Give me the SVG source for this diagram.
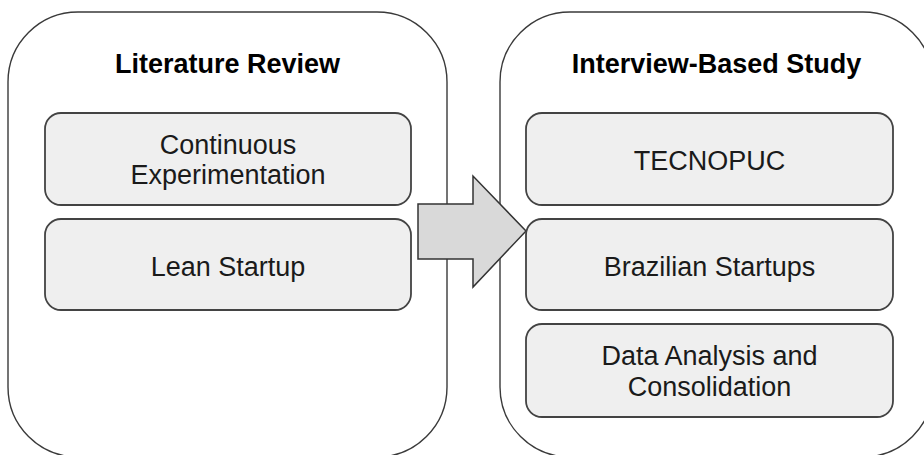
<svg xmlns="http://www.w3.org/2000/svg" width="924" height="455" viewBox="0 0 924 455">
  <style>
    .panel { fill: #ffffff; stroke: #3a3a3a; stroke-width: 1.4; }
    .step { fill: #efefef; stroke: #434343; stroke-width: 1.8; }
    .title { font-family: "Liberation Sans", Arial, sans-serif; font-size: 27px; font-weight: bold; fill: #000000; text-anchor: middle; }
    .label { font-family: "Liberation Sans", Arial, sans-serif; font-size: 27px; fill: #1a1a1a; text-anchor: middle; }
    .flow { fill: #d9d9d9; stroke: #333333; stroke-width: 1.5; stroke-linejoin: miter; }
  </style>
  <rect width="924" height="455" fill="#ffffff"/>

  <!-- Literature review phase -->
  <g id="literature-review">
    <rect class="panel" x="8" y="12" width="439" height="445" rx="70" ry="70"/>
    <text class="title" x="227.5" y="73">Literature Review</text>
  </g>

  <!-- Interview-based study phase -->
  <g id="interview-study">
    <rect class="panel" x="500" y="12" width="433" height="445" rx="70" ry="70"/>
    <text class="title" x="716.5" y="73">Interview-Based Study</text>
  </g>

  <!-- Transition between phases -->
  <g id="connectors">
    <polygon class="flow" points="418,204 473,204 473,176 526,231 473,287 473,259 418,259"/>
  </g>

  <g id="continuous-experimentation">
    <rect class="step" x="45" y="113" width="366" height="92" rx="16" ry="16"/>
    <text class="label" x="228" y="153.5">Continuous</text>
    <text class="label" x="228" y="183.5">Experimentation</text>
  </g>

  <g id="lean-startup">
    <rect class="step" x="45" y="219" width="366" height="91" rx="16" ry="16"/>
    <text class="label" x="228" y="275.5">Lean Startup</text>
  </g>

  <g id="tecnopuc">
    <rect class="step" x="526" y="113" width="367" height="92" rx="16" ry="16"/>
    <text class="label" x="709.5" y="169.5">TECNOPUC</text>
  </g>

  <g id="brazilian-startups">
    <rect class="step" x="526" y="219" width="367" height="91" rx="16" ry="16"/>
    <text class="label" x="709.5" y="275.5">Brazilian Startups</text>
  </g>

  <g id="data-analysis">
    <rect class="step" x="526" y="324" width="367" height="93" rx="16" ry="16"/>
    <text class="label" x="709.5" y="365">Data Analysis and</text>
    <text class="label" x="709.5" y="396">Consolidation</text>
  </g>
</svg>
